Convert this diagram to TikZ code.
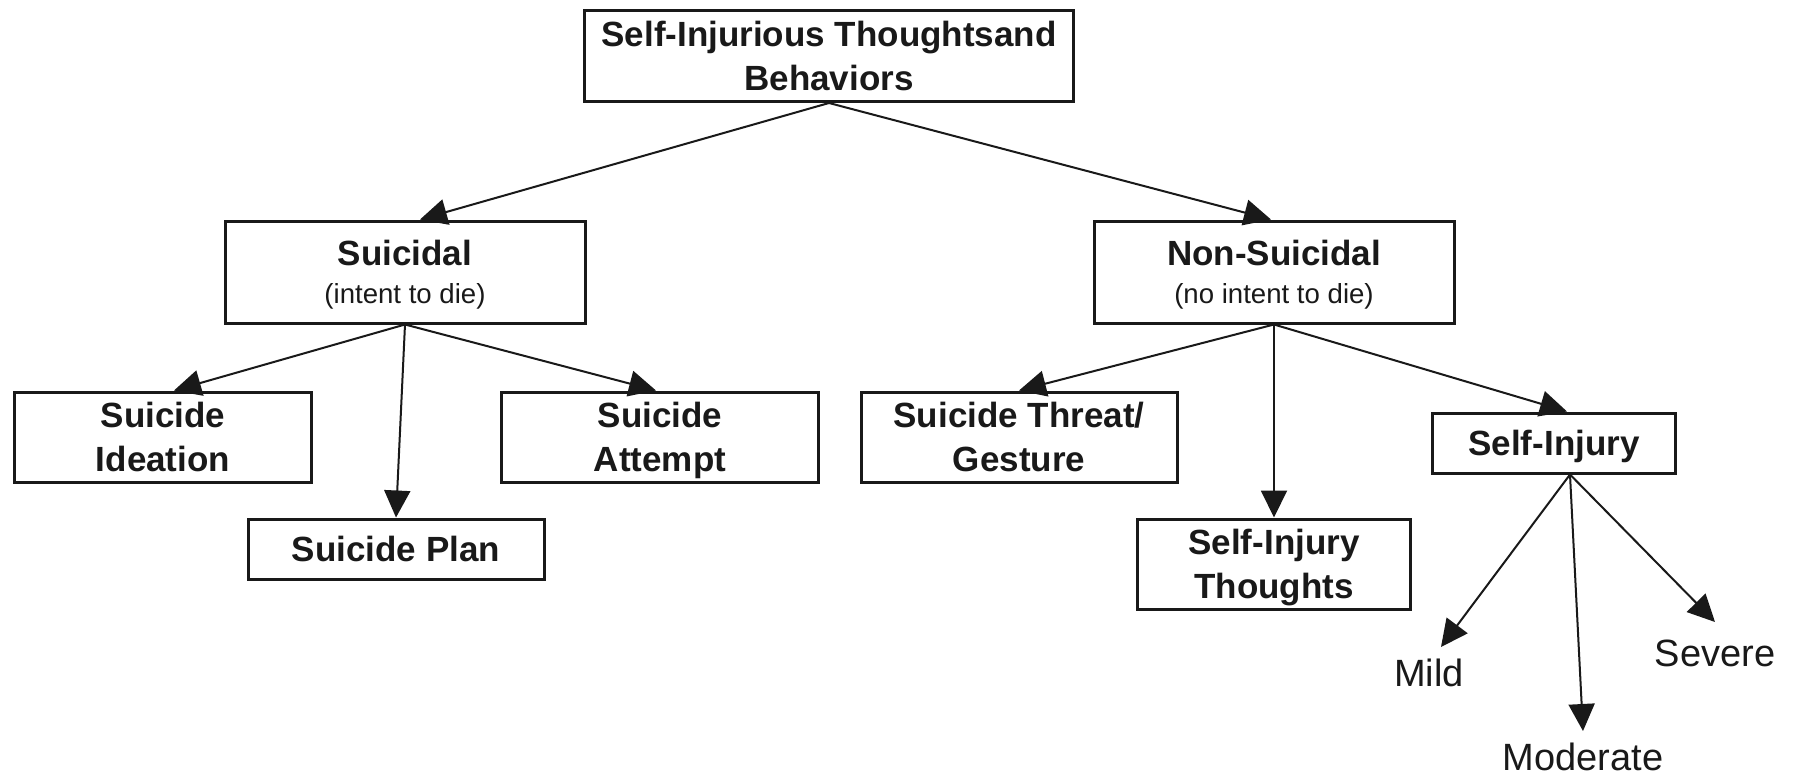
\documentclass[tikz,border=0pt]{standalone}
\usepackage{fontspec}
\setmainfont{Liberation Sans}
\usetikzlibrary{arrows.meta}
\newcommand{\subfnt}{\fontsize{13.8}{16}\selectfont\mdseries}
\begin{document}
\begin{tikzpicture}[x=0.5pt,y=-0.5pt,
  box/.style={draw=black!90, line width=1.5pt, align=center, inner sep=0pt,
    text depth=0pt, text=black!90, font=\fontsize{17.5}{21.75}\selectfont\bfseries},
  arr/.style={draw=black!90, -{Triangle[length=13.5pt,width=13pt]}, line width=1pt},
  lbl/.style={font=\fontsize{19}{23}\selectfont, inner sep=0pt, text=black!90}]
\useasboundingbox (0,0) rectangle (1796,777);
\fill[white] (0,0) rectangle (1796,777);

\node[box, minimum width=244.5pt, minimum height=45.5pt] (root) at (829,56)
  {Self-Injurious Thoughtsand\\Behaviors};

\node[box, minimum width=180pt, minimum height=51pt] (suic) at (405,272)
  {Suicidal\\[-3pt]{\subfnt (intent to die)}};
\node[box, minimum width=180pt, minimum height=51pt] (nons) at (1274,272)
  {Non-Suicidal\\[-3pt]{\subfnt (no intent to die)}};

\node[box, minimum width=148.5pt, minimum height=45pt] (idea) at (163,437)
  {Suicide\\Ideation};
\node[box, minimum width=148pt, minimum height=30pt] (plan) at (396,549)
  {Suicide Plan};
\node[box, minimum width=158.5pt, minimum height=45pt] (att) at (660,437)
  {Suicide\\Attempt};

\node[box, minimum width=158pt, minimum height=45pt] (threat) at (1019,437)
  {Suicide Threat/\\Gesture};
\node[box, minimum width=136.5pt, minimum height=45pt] (sit) at (1274,564)
  {Self-Injury\\Thoughts};
\node[box, minimum width=121.5pt, minimum height=30pt] (si) at (1554,443)
  {Self-Injury};

\node[lbl] (mild) at (1429,673) {Mild};
\node[lbl] (mod) at (1583,757) {Moderate};
\node[lbl] (sev) at (1715,653) {Severe};

\coordinate (mildtip) at (1441,647);
\coordinate (modtip) at (1583,731);
\coordinate (sevtip) at (1715,622);

\draw[arr] (root.south) -- ([xshift=7.5pt]suic.north);
\draw[arr] (root.south) -- ([xshift=-1.5pt]nons.north);

\draw[arr] (suic.south) -- ([xshift=5.5pt]idea.north);
\draw[arr] (suic.south) -- (plan.north);
\draw[arr] (suic.south) -- ([xshift=-2pt]att.north);

\draw[arr] (nons.south) -- (threat.north);
\draw[arr] (nons.south) -- (sit.north);
\draw[arr] (nons.south) -- ([xshift=6.5pt]si.north);

\draw[arr] ([xshift=8pt]si.south) -- (mildtip);
\draw[arr] ([xshift=8pt]si.south) -- (modtip);
\draw[arr] ([xshift=8pt]si.south) -- (sevtip);
\end{tikzpicture}
\end{document}
